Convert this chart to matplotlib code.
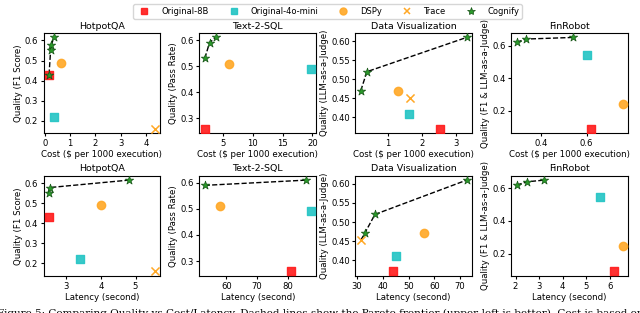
import matplotlib.pyplot as plt
from matplotlib.ticker import FormatStrFormatter

tasks = ["HotpotQA", "Text-2-SQL", "Data Visualization", "FinRobot"]
ylabels = ["Quality (F1 Score)", "Quality (Pass Rate)",
           "Quality (LLM-as-a-Judge)", "Quality (F1 & LLM-as-a-Judge)"]

# quality of each method per task
q_8b = [0.43, 0.26, 0.37, 0.09]
q_mini = [0.22, 0.49, 0.41, 0.545]
q_dspy = [0.49, 0.51, 0.47, 0.245]
q_trace = [0.16, None, 0.452, None]

# cost ($ per 1000 execution)
cost_8b = [0.15, 2.0, 2.52, 0.62]
cost_mini = [0.35, 19.7, 1.62, 0.60]
cost_dspy = [0.62, 6.0, 1.28, 0.76]
cost_trace = [4.35, None, 1.65, None]
cost_cognify = [[0.16, 0.22, 0.25, 0.35], [2.0, 2.8, 3.8], [0.2, 0.38, 3.3], [0.29, 0.33, 0.54]]
q_cognify_cost = [[0.43, 0.55, 0.578, 0.615], [0.53, 0.59, 0.61], [0.47, 0.52, 0.61], [0.62, 0.64, 0.65]]

# latency (second)
lat_8b = [2.5, 81, 44, 6.2]
lat_mini = [3.4, 87.5, 45, 5.6]
lat_dspy = [4.0, 58, 56, 6.55]
lat_trace = [5.55, None, 31.5, None]
lat_cognify = [[2.5, 2.52, 4.8], [53, 86], [33, 37, 72.5], [2.05, 2.5, 3.2]]
q_cognify_lat = [[0.55, 0.578, 0.615], [0.59, 0.61], [0.47, 0.52, 0.61], [0.62, 0.64, 0.65]]
# pareto frontier for latency (data vis frontier starts at the trace point)
lat_front = [[2.5, 2.52, 4.8], [53, 86], [31.5, 33, 37, 72.5], [2.05, 2.5, 3.2]]
q_front_lat = [[0.55, 0.578, 0.615], [0.59, 0.61], [0.452, 0.47, 0.52, 0.61], [0.62, 0.64, 0.65]]

# ticks
cost_xticks = [[0, 1, 2, 3, 4], [5, 10, 15, 20], [1, 2, 3], [0.4, 0.6]]
lat_xticks = [[3, 4, 5], [60, 70, 80], [30, 40, 50, 60, 70], [2, 3, 4, 5, 6]]
yticks = [[0.2, 0.3, 0.4, 0.5, 0.6], [0.3, 0.4, 0.5, 0.6],
          [0.40, 0.45, 0.50, 0.55, 0.60], [0.2, 0.4, 0.6]]
yfmt = ["%.1f", "%.1f", "%.2f", "%.1f"]

red = "#ff1a1a"
teal = "#22c4c4"
orange = "#ffa826"
green = "#2a9a2a"

fig, axes = plt.subplots(2, 4, figsize=(6.4, 3.13), dpi=100)
plt.subplots_adjust(left=0.068, right=0.981, top=0.895, bottom=0.118,
                    wspace=0.34, hspace=0.42)


def draw(ax, i, x8, xm, xd, xt, xc, qc, xf, qf, xlabel, xt_ticks):
    ax.plot(xf, qf, "--", color="black", lw=1.0, zorder=2)
    ax.scatter([x8[i]], [q_8b[i]], marker="s", s=36, color=red, alpha=0.9, zorder=3)
    ax.scatter([xm[i]], [q_mini[i]], marker="s", s=36, color=teal, alpha=0.9, zorder=3)
    ax.scatter([xd[i]], [q_dspy[i]], marker="o", s=36, color=orange, alpha=0.9, zorder=3)
    if xt[i] is not None:
        ax.scatter([xt[i]], [q_trace[i]], marker="x", s=34, color=orange, lw=1.1, zorder=3)
    ax.scatter(xc, qc, marker="*", s=40, color=green, edgecolor="#145214",
               lw=0.5, zorder=4)
    ax.set_title(tasks[i], fontsize=6.8, pad=3)
    ax.set_xlabel(xlabel, fontsize=6.2, labelpad=1.5)
    ax.set_ylabel(ylabels[i], fontsize=6.2, labelpad=1.5)
    ax.set_xticks(xt_ticks)
    ax.set_yticks(yticks[i])
    ax.yaxis.set_major_formatter(FormatStrFormatter(yfmt[i]))
    ax.tick_params(labelsize=6.1, length=2.5, pad=1.5)


for i in range(4):
    draw(axes[0, i], i, cost_8b, cost_mini, cost_dspy, cost_trace,
         cost_cognify[i], q_cognify_cost[i], cost_cognify[i], q_cognify_cost[i],
         "Cost ($ per 1000 execution)", cost_xticks[i])
    draw(axes[1, i], i, lat_8b, lat_mini, lat_dspy, lat_trace,
         lat_cognify[i], q_cognify_lat[i], lat_front[i], q_front_lat[i],
         "Latency (second)", lat_xticks[i])

handles = [
    plt.Line2D([], [], marker="s", ls="", ms=5, color=red, alpha=0.9),
    plt.Line2D([], [], marker="s", ls="", ms=5, color=teal, alpha=0.9),
    plt.Line2D([], [], marker="o", ls="", ms=5, color=orange, alpha=0.9),
    plt.Line2D([], [], marker="x", ls="", ms=5, color=orange, mew=1.1),
    plt.Line2D([], [], marker="*", ls="", ms=6, color=green, mec="#145214", mew=0.5),
]
labels = ["Original-8B", "Original-4o-mini", "DSPy", "Trace", "Cognify"]
fig.legend(handles, labels, loc="upper center", bbox_to_anchor=(0.512, 1.0),
           ncol=5, fontsize=6, frameon=True, handletextpad=1.0, columnspacing=2.0,
           borderpad=0.35)

fig.text(-0.005, 0.0, "Figure 5: Comparing Quality vs Cost/Latency. Dashed lines show the "
         "Pareto frontier (upper-left is better). Cost is based on model API",
         fontsize=7.5, ha="left", va="center", family="serif")

fig.savefig("out.png", dpi=100)
